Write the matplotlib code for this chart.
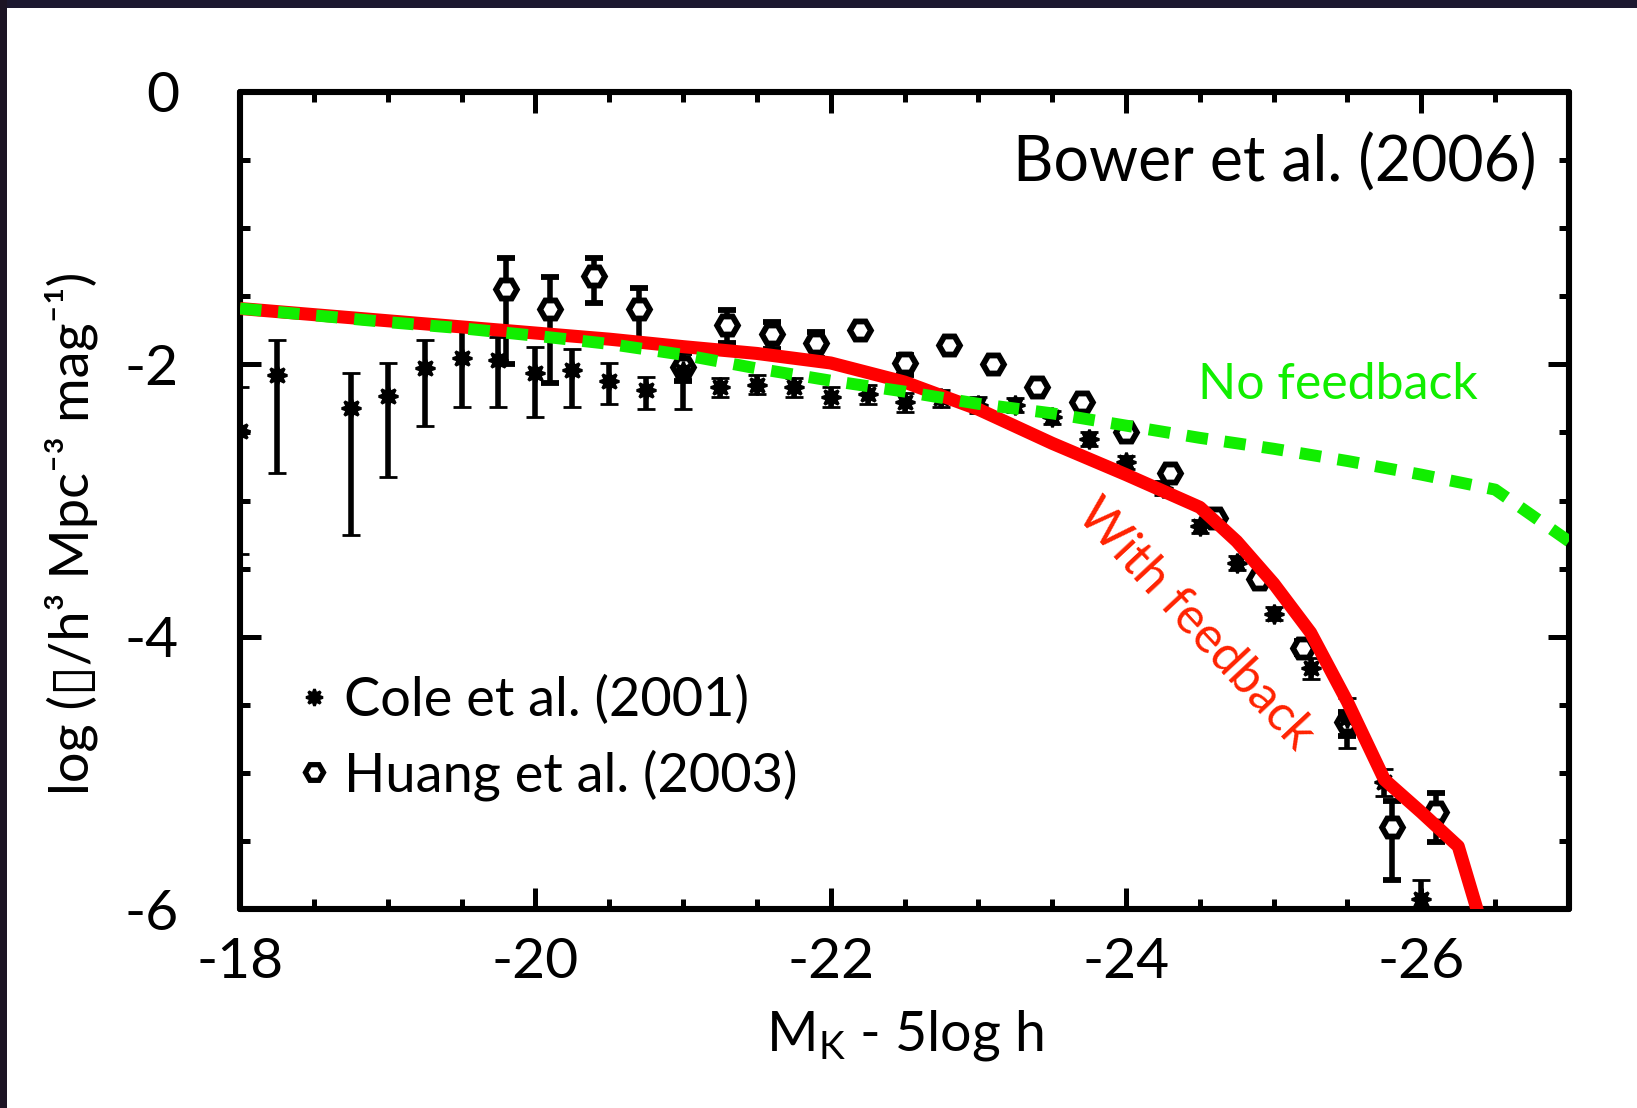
import matplotlib
matplotlib.use("Agg")
import matplotlib.pyplot as plt
from matplotlib.ticker import MultipleLocator
from matplotlib.lines import Line2D
from matplotlib.patches import Rectangle

plt.rcParams['font.family'] = ['Lato', 'DejaVu Sans']
plt.rcParams['mathtext.fontset'] = 'custom'
plt.rcParams['mathtext.rm'] = 'Lato'
plt.rcParams['mathtext.it'] = 'Lato'
plt.rcParams['mathtext.default'] = 'regular'

# ---------------- data ----------------
cole_x = [-18.0, -18.25, -18.75, -19.0, -19.25, -19.5, -19.75, -20.0, -20.25, -20.5,
          -20.75, -21.0, -21.25, -21.5, -21.75, -22.0, -22.25, -22.5, -22.75, -23.0,
          -23.25, -23.5, -23.75, -24.0, -24.25, -24.5, -24.75, -25.0, -25.25, -25.5,
          -25.75, -26.0]
cole_y = [-2.49, -2.08, -2.32, -2.23, -2.03, -1.95, -1.97, -2.06, -2.04, -2.12,
          -2.19, -2.05, -2.17, -2.15, -2.17, -2.24, -2.22, -2.28, -2.25, -2.30,
          -2.30, -2.39, -2.55, -2.72, -2.91, -3.19, -3.46, -3.83, -4.23, -4.60,
          -5.07, -5.93]
cole_up = [0.32, 0.26, 0.26, 0.24, 0.21, 0.20, 0.17, 0.19, 0.15, 0.13,
           0.10, 0.20, 0.07, 0.07, 0.07, 0.07, 0.07, 0.07, 0.06, 0.06,
           0.05, 0.05, 0.05, 0.05, 0.05, 0.05, 0.05, 0.05, 0.07, 0.15,
           0.10, 0.14]
cole_lo = [0.90, 0.72, 0.93, 0.60, 0.42, 0.36, 0.34, 0.33, 0.27, 0.17,
           0.14, 0.28, 0.07, 0.07, 0.07, 0.07, 0.07, 0.07, 0.06, 0.06,
           0.05, 0.05, 0.05, 0.05, 0.05, 0.05, 0.05, 0.05, 0.08, 0.22,
           0.10, 0.30]

huang_x = [-19.8, -20.1, -20.4, -20.7, -21.0, -21.3, -21.6, -21.9, -22.2, -22.5,
           -22.8, -23.1, -23.4, -23.7, -24.0, -24.3, -24.6, -24.9, -25.2, -25.5,
           -25.8, -26.1]
huang_y = [-1.45, -1.59, -1.35, -1.59, -2.02, -1.71, -1.78, -1.84, -1.75, -1.99,
           -1.86, -2.00, -2.17, -2.28, -2.50, -2.80, -3.13, -3.58, -4.08, -4.63,
           -5.40, -5.29]
huang_up = [0.23, 0.23, 0.13, 0.15, 0.10, 0.11, 0.09, 0.08, 0.03, 0.06,
            0.03, 0.03, 0.03, 0.03, 0.03, 0.03, 0.03, 0.03, 0.05, 0.08,
            0.19, 0.14]
huang_lo = [0.55, 0.55, 0.20, 0.25, 0.10, 0.13, 0.11, 0.11, 0.03, 0.09,
            0.03, 0.03, 0.03, 0.03, 0.03, 0.03, 0.03, 0.03, 0.05, 0.10,
            0.39, 0.22]

fb_x = [-18.0, -18.5, -19.0, -19.5, -20.0, -20.5, -21.0, -21.5, -22.0, -22.5,
        -23.0, -23.5, -24.0, -24.5, -24.75, -25.0, -25.25, -25.5, -25.75, -26.0,
        -26.25, -26.5]
fb_y = [-1.59, -1.635, -1.68, -1.725, -1.77, -1.815, -1.87, -1.92, -1.99, -2.13,
        -2.33, -2.58, -2.81, -3.05, -3.30, -3.61, -3.97, -4.48, -5.05, -5.29,
        -5.54, -6.45]

nofb_x = [-18.0, -18.5, -19.0, -19.5, -20.0, -20.5, -21.0, -21.5, -22.0, -22.5,
          -23.0, -23.5, -24.0, -24.5, -25.0, -25.5, -26.0, -26.5, -27.0]
nofb_y = [-1.59, -1.64, -1.69, -1.735, -1.79, -1.85, -1.93, -2.03, -2.12, -2.20,
          -2.29, -2.36, -2.45, -2.54, -2.62, -2.71, -2.81, -2.92, -3.30]

x_ticks = [-18, -20, -22, -24, -26]
y_ticks = [0, -2, -4, -6]

# ---------------- figure ----------------
W, H = 1637, 1108
fig = plt.figure(figsize=(W / 100, H / 100), dpi=100)
fig.patch.set_facecolor('white')
# dark slide border (top and left)
fig.patches.append(Rectangle((0, 1 - 8 / H), 1, 8 / H, transform=fig.transFigure,
                             facecolor='#1c1830', edgecolor='none', zorder=0))
fig.patches.append(Rectangle((0, 0), 7 / W, 1, transform=fig.transFigure,
                             facecolor='#1c1424', edgecolor='none', zorder=0))

ax = fig.add_axes([240 / W, 1 - 909 / H, (1569 - 240) / W, (909 - 92) / H])

eb_kw = dict(ecolor='black', elinewidth=4.0, capsize=6.5, capthick=3.6, linestyle='none')
ax.errorbar(huang_x, huang_y, yerr=[huang_lo, huang_up], marker='H', ms=15,
            mfc='white', mec='black', mew=4.2, color='black', zorder=3, **eb_kw)
ax.errorbar(cole_x, cole_y, yerr=[cole_lo, cole_up], marker=(8, 1, 0), ms=14,
            mfc='black', mec='black', mew=2.0, color='black', zorder=3, **eb_kw)

ax.plot(fb_x, fb_y, color='#ff0000', lw=9.4, solid_capstyle='butt', zorder=4)
ax.plot(nofb_x, nofb_y, color='#11ee00', lw=8.6, dashes=(1.8, 1.4), zorder=5)

ax.set_xlim(-18, -27)
ax.set_ylim(-6, 0)
ax.set_xticks(x_ticks)
ax.set_yticks(y_ticks)
ax.xaxis.set_minor_locator(MultipleLocator(0.5))
ax.yaxis.set_minor_locator(MultipleLocator(0.5))
ax.set_xticklabels([str(v) for v in x_ticks])
ax.set_yticklabels([str(v) for v in y_ticks])
ax.tick_params(which='both', direction='in', top=True, right=True, width=3.6, color='black')
ax.tick_params(which='major', length=15, labelsize=41)
ax.tick_params(which='minor', length=7.5)
ax.tick_params(axis='x', which='major', pad=20)
ax.tick_params(axis='y', which='major', pad=44)
for s in ax.spines.values():
    s.set_linewidth(4.4)
    s.set_capstyle('round')

ax.set_xlabel('M$_{K}$ - 5log h', fontsize=40)
ax.xaxis.set_label_coords(0.5, -0.121)
ax.set_ylabel('log (\u25af/h\u00b3 Mpc\u207b\u00b3 mag\u207b\u00b9)', fontsize=39)
ax.yaxis.set_label_coords(-0.107, 0.46)

ax.text(-26.78, -0.66, 'Bower et al. (2006)', fontsize=45, ha='right', va='baseline')
ax.text(-24.49, -2.255, 'No feedback', fontsize=36, color='#11ee00', ha='left', va='baseline')
ax.text(-24.47, -3.91, 'With feedback', fontsize=36, color='#ff2200', ha='center', va='center',
        rotation=-47, rotation_mode='anchor')

handles = [Line2D([], [], linestyle='none', marker=(8, 1, 0), ms=12, mfc='black', mec='black', mew=2.0),
           Line2D([], [], linestyle='none', marker='H', ms=13, mfc='white', mec='black', mew=3.8)]
ax.legend(handles, ['Cole et al. (2001)', 'Huang et al. (2003)'], loc='upper left',
          bbox_to_anchor=(0.0455, 0.287), frameon=False, fontsize=39, borderpad=0,
          borderaxespad=0, handlelength=0.5, handletextpad=0.3, labelspacing=0.45)

fig.savefig('out.png', dpi=100)
